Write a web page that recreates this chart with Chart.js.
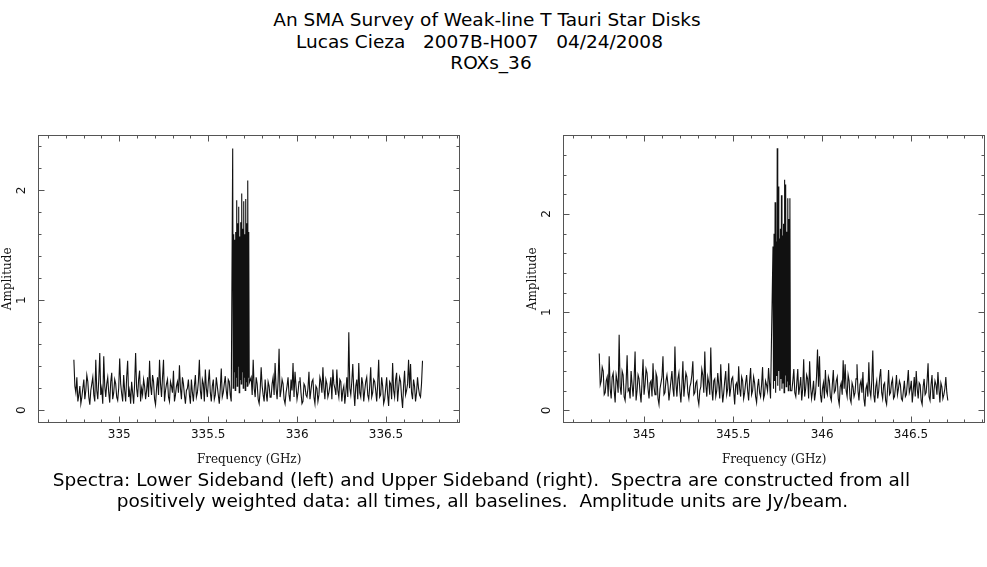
<!DOCTYPE html>
<html>
<head>
<meta charset="utf-8">
<script src="https://cdn.jsdelivr.net/npm/chart.js@4.4.1/dist/chart.umd.min.js"></script>
<style>
  html, body { margin: 0; padding: 0; background: #fff; }
  body { width: 987px; height: 567px; position: relative; overflow: hidden; }
  .txt { position: absolute; left: 0; text-align: center; white-space: pre;
         font-family: "DejaVu Sans", sans-serif; font-size: 18.5px; line-height: 21.5px; color: #000; }
  canvas { position: absolute; top: 125px; }
</style>
</head>
<body>
<div class="txt" style="top:9px; width:974px;">An SMA Survey of Weak-line T Tauri Star Disks</div>
<div class="txt" style="top:31px; width:959px;">Lucas Cieza   2007B-H007   04/24/2008</div>
<div class="txt" style="top:52px; width:982px;">ROXs_36</div>

<canvas id="lsbChart" width="475" height="350" style="left:0px;"></canvas>
<canvas id="usbChart" width="462" height="350" style="left:525px;"></canvas>

<div class="txt" style="top:469px; width:963px;">Spectra: Lower Sideband (left) and Upper Sideband (right).  Spectra are constructed from all</div>
<div class="txt" style="top:490px; width:965px;">positively weighted data: all times, all baselines.  Amplitude units are Jy/beam.</div>

<script>
// Lower sideband: continuum channels below the line, the line block, channels above
const lsbLowStart = 334.745, lsbLowStep = 0.0056;
const lsbLowAmp = [
  0.46, 0.22, 0.16, 0.30, 0.08, 0.14, 0.22, 0.06, 0.12, 0.20, 0.28, 0.10, 0.18, 0.32, 0.26, 0.12, 0.05, 0.18, 0.24, 0.30,
  0.14, 0.08, 0.46, 0.18, 0.10, 0.28, 0.52, 0.14, 0.20, 0.06, 0.49, 0.22, 0.12, 0.24, 0.30, 0.16, 0.07, 0.26, 0.34, 0.10,
  0.16, 0.28, 0.24, 0.12, 0.09, 0.20, 0.47, 0.24, 0.15, 0.08, 0.32, 0.18, 0.08, 0.30, 0.45, 0.12, 0.18, 0.06, 0.26, 0.16,
  0.06, 0.24, 0.52, 0.20, 0.12, 0.28, 0.36, 0.08, 0.20, 0.14, 0.28, 0.22, 0.10, 0.18, 0.30, 0.12, 0.45, 0.22, 0.14, 0.32,
  0.26, 0.10, 0.05, 0.20, 0.30, 0.14, 0.46, 0.24, 0.12, 0.30, 0.46, 0.08, 0.18, 0.24, 0.28, 0.12, 0.08, 0.26, 0.22, 0.16,
  0.36, 0.08, 0.14, 0.22, 0.26, 0.16, 0.41, 0.20, 0.10, 0.30, 0.24, 0.14, 0.06, 0.18, 0.20, 0.28, 0.14, 0.06, 0.28, 0.16,
  0.08, 0.22, 0.32, 0.12, 0.16, 0.26, 0.46, 0.18, 0.10, 0.28, 0.24, 0.08, 0.37, 0.20, 0.12, 0.26, 0.37, 0.16, 0.08, 0.22,
  0.28, 0.10, 0.14, 0.30, 0.22, 0.14, 0.06, 0.20, 0.38, 0.12, 0.16, 0.24, 0.31, 0.18, 0.10, 0.28, 0.26, 0.14, 0.08
];
const lsbLineStart = 335.638, lsbLineStep = 0.00282;
const lsbLineAmp = [
  2.38, 0.20, 1.60, 0.35, 1.55, 0.18, 1.62, 0.30, 1.91, 0.22,
  1.70, 0.40, 1.85, 0.16, 1.58, 0.28, 1.71, 0.24, 1.97, 0.35,
  1.65, 0.20, 1.90, 0.30, 1.60, 0.18, 1.92, 0.26, 1.70, 0.22,
  2.09, 0.30, 1.62, 0.25
];
const lsbHighStart = 335.742, lsbHighStep = 0.0056;
const lsbHighAmp = [
  0.30, 0.14, 0.46, 0.20, 0.12, 0.30, 0.24, 0.10, 0.06, 0.18, 0.39, 0.22, 0.14, 0.08, 0.28, 0.16, 0.08, 0.26, 0.22, 0.12,
  0.12, 0.24, 0.30, 0.14, 0.43, 0.20, 0.10, 0.26, 0.56, 0.12, 0.18, 0.28, 0.24, 0.10, 0.06, 0.16, 0.22, 0.30, 0.14, 0.08,
  0.28, 0.18, 0.43, 0.12, 0.35, 0.22, 0.10, 0.16, 0.26, 0.30, 0.16, 0.06, 0.08, 0.24, 0.22, 0.14, 0.12, 0.20, 0.35, 0.10,
  0.18, 0.26, 0.28, 0.12, 0.06, 0.22, 0.20, 0.08, 0.14, 0.30, 0.26, 0.16, 0.39, 0.20, 0.10, 0.28, 0.24, 0.12, 0.16, 0.22,
  0.30, 0.10, 0.37, 0.24, 0.20, 0.14, 0.37, 0.18, 0.12, 0.28, 0.26, 0.08, 0.18, 0.22, 0.06, 0.16, 0.30, 0.12, 0.71, 0.20,
  0.14, 0.26, 0.42, 0.18, 0.04, 0.22, 0.28, 0.10, 0.43, 0.16, 0.12, 0.30, 0.24, 0.08, 0.18, 0.26, 0.30, 0.14, 0.10, 0.22,
  0.39, 0.12, 0.16, 0.28, 0.26, 0.18, 0.08, 0.24, 0.46, 0.12, 0.14, 0.30, 0.22, 0.06, 0.10, 0.20, 0.30, 0.14, 0.04, 0.26,
  0.24, 0.10, 0.43, 0.18, 0.12, 0.28, 0.34, 0.08, 0.20, 0.30, 0.26, 0.12, 0.02, 0.22, 0.36, 0.14, 0.18, 0.24, 0.46, 0.20,
  0.42, 0.16, 0.10, 0.28, 0.22, 0.08, 0.16, 0.30, 0.20, 0.14, 0.12, 0.24, 0.45
];

// Upper sideband
const usbLowStart = 344.747, usbLowStep = 0.0056;
const usbLowAmp = [
  0.58, 0.26, 0.30, 0.44, 0.40, 0.16, 0.18, 0.30, 0.34, 0.14, 0.55, 0.22, 0.12, 0.34, 0.38, 0.20, 0.08, 0.36, 0.30, 0.18,
  0.77, 0.24, 0.16, 0.40, 0.36, 0.14, 0.10, 0.28, 0.56, 0.20, 0.22, 0.12, 0.40, 0.26, 0.14, 0.32, 0.60, 0.10, 0.20, 0.36,
  0.32, 0.18, 0.08, 0.30, 0.52, 0.16, 0.26, 0.42, 0.38, 0.22, 0.12, 0.28, 0.30, 0.14, 0.48, 0.24, 0.16, 0.38, 0.34, 0.12,
  0.06, 0.22, 0.28, 0.34, 0.55, 0.16, 0.18, 0.30, 0.36, 0.26, 0.10, 0.20, 0.30, 0.40, 0.22, 0.14, 0.65, 0.28, 0.14, 0.32,
  0.38, 0.20, 0.08, 0.26, 0.50, 0.14, 0.26, 0.38, 0.34, 0.18, 0.12, 0.24, 0.28, 0.36, 0.50, 0.16, 0.18, 0.28, 0.30, 0.12,
  0.06, 0.20, 0.24, 0.42, 0.36, 0.18, 0.60, 0.26, 0.14, 0.34, 0.28, 0.16, 0.64, 0.22, 0.10, 0.30, 0.32, 0.14, 0.20, 0.38,
  0.26, 0.12, 0.47, 0.24, 0.08, 0.18, 0.30, 0.40, 0.16, 0.22, 0.48, 0.14, 0.22, 0.32, 0.34, 0.20, 0.06, 0.26, 0.28, 0.16,
  0.45, 0.22, 0.14, 0.34, 0.30, 0.12, 0.18, 0.28, 0.36, 0.20, 0.10, 0.30, 0.43, 0.16, 0.20, 0.34, 0.28, 0.14, 0.08, 0.24,
  0.32, 0.18, 0.14, 0.26, 0.44, 0.12, 0.16, 0.30, 0.26, 0.20, 0.43, 0.28, 0.12
];
const usbLineStart = 345.724, usbLineStep = 0.00297;
const usbLineAmp = [
  1.67, 0.22, 1.80, 0.30, 2.12, 0.18, 1.72, 0.35, 2.67, 0.25,
  2.28, 0.40, 1.75, 0.20, 1.85, 0.32, 2.19, 0.22, 1.78, 0.28,
  1.90, 0.18, 2.35, 0.36, 2.30, 0.24, 1.82, 0.30, 2.16, 0.20,
  1.95, 0.26, 2.16, 0.20
];
const usbHighStart = 345.830, usbHighStep = 0.00555;
const usbHighAmp = [
  0.20, 0.30, 0.42, 0.18, 0.14, 0.28, 0.42, 0.16, 0.24, 0.34, 0.10, 0.22, 0.52, 0.14, 0.22, 0.36, 0.32, 0.12, 0.50, 0.24,
  0.12, 0.20, 0.30, 0.10, 0.18, 0.34, 0.62, 0.24, 0.55, 0.16, 0.08, 0.22, 0.28, 0.12, 0.41, 0.20, 0.16, 0.34, 0.30, 0.14,
  0.10, 0.26, 0.41, 0.18, 0.20, 0.30, 0.34, 0.12, 0.06, 0.24, 0.28, 0.16, 0.51, 0.22, 0.47, 0.20, 0.14, 0.36, 0.30, 0.12,
  0.08, 0.28, 0.24, 0.14, 0.18, 0.32, 0.47, 0.20, 0.10, 0.26, 0.30, 0.18, 0.39, 0.12, 0.04, 0.22, 0.26, 0.14, 0.49, 0.20,
  0.14, 0.30, 0.61, 0.16, 0.08, 0.24, 0.30, 0.12, 0.20, 0.34, 0.42, 0.18, 0.12, 0.26, 0.28, 0.10, 0.06, 0.22, 0.41, 0.16,
  0.18, 0.28, 0.32, 0.12, 0.14, 0.24, 0.36, 0.16, 0.22, 0.30, 0.26, 0.12, 0.10, 0.20, 0.30, 0.14, 0.16, 0.28, 0.41, 0.18,
  0.22, 0.30, 0.08, 0.20, 0.34, 0.14, 0.40, 0.22, 0.12, 0.28, 0.26, 0.10, 0.06, 0.24, 0.32, 0.16, 0.18, 0.30, 0.48, 0.14,
  0.10, 0.26, 0.36, 0.12, 0.20, 0.30, 0.26, 0.16, 0.39, 0.22, 0.08, 0.28, 0.24, 0.12, 0.16, 0.22, 0.34, 0.18, 0.10
];

// Axis ranges and labelled ticks
const lsbRange = [334.545, 336.916];
const usbRange = [344.545, 346.916];
const lsbAmpRange = [-0.113, 2.503];
const usbAmpRange = [-0.126, 2.805];
const lsbTicks = [335, 335.5, 336, 336.5];
const usbTicks = [345, 345.5, 346, 346.5];
const ampTicks = [0, 1, 2];

function toPoints(start, step, amps) {
  return amps.map((a, i) => ({ x: start + i * step, y: a }));
}

// Box round the plot with inward ticks on all four sides (PGPLOT style)
const frameTicks = {
  id: "frameTicks",
  afterDraw(chart) {
    const { ctx, chartArea: a, scales: { x, y } } = chart;
    const L = Math.round(a.left) + 0.5, R = Math.round(a.right) - 0.5;
    const T = Math.round(a.top) + 0.5, B = Math.round(a.bottom) - 0.5;
    ctx.save();
    ctx.strokeStyle = "#555";
    ctx.lineWidth = 1;
    ctx.strokeRect(L, T, R - L, B - T);
    ctx.beginPath();
    for (let k = Math.ceil(x.min * 10); k <= Math.floor(x.max * 10); k++) {
      const px = Math.round(x.getPixelForValue(k / 10)) + 0.5;
      const len = k % 5 === 0 ? 6 : 3;
      ctx.moveTo(px, B); ctx.lineTo(px, B - len);
      ctx.moveTo(px, T); ctx.lineTo(px, T + len);
    }
    for (let k = Math.ceil(y.min * 5); k <= Math.floor(y.max * 5); k++) {
      const py = Math.round(y.getPixelForValue(k / 5)) + 0.5;
      const len = k % 5 === 0 ? 6 : 3;
      ctx.moveTo(L, py); ctx.lineTo(L + len, py);
      ctx.moveTo(R, py); ctx.lineTo(R - len, py);
    }
    ctx.stroke();
    ctx.restore();
  }
};

function makeSpectrum(canvasId, points, xRange, yRange, xTicks, padRight) {
  const ctx = document.getElementById(canvasId).getContext("2d");
  return new Chart(ctx, {
    type: "line",
    data: {
      datasets: [{
        data: points,
        borderColor: "#111",
        borderWidth: 1.1,
        pointRadius: 0,
        tension: 0,
        fill: false
      }]
    },
    options: {
      responsive: false,
      animation: false,
      devicePixelRatio: 1,
      layout: { padding: { top: 10, right: padRight, left: 0, bottom: 0 } },
      plugins: { legend: { display: false }, tooltip: { enabled: false } },
      scales: {
        x: {
          type: "linear",
          min: xRange[0],
          max: xRange[1],
          afterBuildTicks: (s) => { s.ticks = xTicks.map((v) => ({ value: v })); },
          afterFit: (s) => { s.height = 52.3; },
          grid: { display: false, drawTicks: false },
          border: { display: false },
          ticks: {
            autoSkip: false,
            maxRotation: 0,
            padding: 5,
            color: "#111",
            font: { family: "DejaVu Sans", size: 12 },
            callback: (v) => String(v)
          },
          title: {
            display: true,
            text: "Frequency (GHz)",
            color: "#111",
            font: { family: "DejaVu Serif", size: 12 },
            padding: { top: 0, bottom: 8 }
          }
        },
        y: {
          type: "linear",
          min: yRange[0],
          max: yRange[1],
          afterBuildTicks: (s) => { s.ticks = ampTicks.map((v) => ({ value: v })); },
          afterFit: (s) => { s.width = 38.3; },
          // tick marks are drawn by frameTicks; tickLength only offsets the labels
          grid: { display: false, drawTicks: true, tickLength: 12.5 },
          border: { display: false },
          ticks: {
            minRotation: 90,
            maxRotation: 90,
            crossAlign: "center",
            padding: 0,
            color: "#111",
            font: { family: "DejaVu Sans", size: 12 },
            callback: (v) => String(v)
          },
          title: {
            display: true,
            text: "Amplitude",
            color: "#111",
            font: { family: "DejaVu Serif", size: 12 },
            padding: { top: 1, bottom: 0 }
          }
        }
      }
    },
    plugins: [frameTicks]
  });
}

const lsbPoints = [].concat(
  toPoints(lsbLowStart, lsbLowStep, lsbLowAmp),
  toPoints(lsbLineStart, lsbLineStep, lsbLineAmp),
  toPoints(lsbHighStart, lsbHighStep, lsbHighAmp)
);
const usbPoints = [].concat(
  toPoints(usbLowStart, usbLowStep, usbLowAmp),
  toPoints(usbLineStart, usbLineStep, usbLineAmp),
  toPoints(usbHighStart, usbHighStep, usbHighAmp)
);

makeSpectrum("lsbChart", lsbPoints, lsbRange, lsbAmpRange, lsbTicks, 15);
makeSpectrum("usbChart", usbPoints, usbRange, usbAmpRange, usbTicks, 2);
</script>
</body>
</html>
